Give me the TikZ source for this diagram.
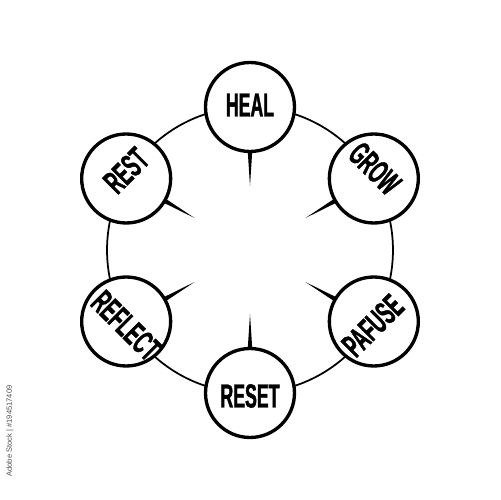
\documentclass[tikz,border=0pt]{standalone}
\usepackage{fontspec}
\setmainfont{Liberation Sans}
\newfontfamily\slimfont[FakeStretch=0.53, FakeBold=1.2]{Liberation Sans Bold}
\usetikzlibrary{calc}

\begin{document}
\begin{tikzpicture}[x=0.02cm, y=0.02cm,
    stage/.style={circle, draw, line width=1.9pt, fill=white, minimum size=1.78cm, inner sep=0pt},
    word/.style={font=\fontsize{19}{19}\slimfont, inner sep=0pt},
    ring/.style={line width=1pt}
    ]
    \useasboundingbox (-250,-250) rectangle (250,250);
    \draw[ring] (0,0) circle [radius=2.86cm];
    % spikes pointing to the middle
    \foreach \a in {90,30,-30,-90,-150,150}
      \fill[rotate=\a] (101,-2.4) -- (64,0) -- (101,2.4) -- cycle;
    \node[stage] (heal) at (90:143) {};
    \node[stage] (grow) at (30:143) {};
    \node[stage] (pafuse) at (-30:143) {};
    \node[stage] (reset) at (-90:143) {};
    \node[stage] (reflect) at (-150:143) {};
    \node[stage] (rest) at (150:143) {};
    \node[word] (healtxt) at ($(heal)+(0,2)$) {HEAL};
    \node[word, rotate=-45] (growtxt) at ($(grow)+(1,10)$) {GROW};
    \node[word, rotate=45] (pafusetxt) at ($(pafuse)+(-1,-4)$) {PAFUSE};
    \node[word] (resettxt) at ($(reset)+(0,-3)$) {RESET};
    \node[word, rotate=-45] (reflecttxt) at ($(reflect)+(0,-4)$) {REFLECT};
    \node[word, rotate=45] (resttxt) at ($(rest)+(0,8)$) {REST};
    \node[rotate=90, text=black!70, font=\fontsize{4.3}{5}\selectfont, inner sep=0pt] (stamp) at (-240,-181) {Adobe Stock | \#194517409};
\end{tikzpicture}
\end{document}
